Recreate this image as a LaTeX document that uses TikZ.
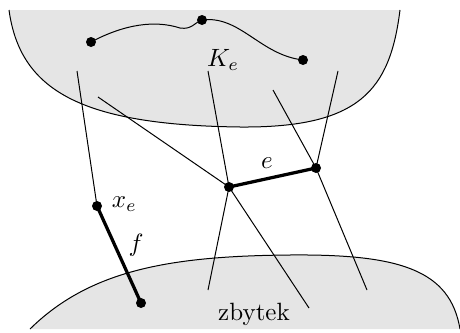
\documentclass[tikz,border=0pt]{standalone}
\begin{document}
\begin{tikzpicture}[x=0.4pt,y=-0.4pt,
  dot/.style={circle,fill=black,inner sep=0pt,minimum size=4pt},
  blob/.style={fill=gray!20},
  edge/.style={line width=0.4pt},
  heavy/.style={line width=1.3pt}]
\useasboundingbox (0,0) rectangle (460,333);
% top region K_e
\fill[blob] (9,10) .. controls (20,90) and (80,125) .. (240,127)
  .. controls (360,128) and (390,90) .. (400,10) -- cycle;
\draw[edge] (9,10) .. controls (20,90) and (80,125) .. (240,127)
  .. controls (360,128) and (390,90) .. (400,10);
% bottom region zbytek
\fill[blob] (30,329) .. controls (90,270) and (170,256) .. (290,255)
  .. controls (400,254) and (450,270) .. (460,329) -- cycle;
\draw[edge] (30,329) .. controls (90,270) and (170,256) .. (290,255)
  .. controls (400,254) and (450,270) .. (460,329);
% path inside K_e
\node[dot] (p1) at (91,42) {};
\node[dot] (p2) at (202,20) {};
\node[dot] (p3) at (303,60) {};
\draw[edge] (p1.center) .. controls (125,24) and (155,20) .. (180,28)
  .. controls (192,30) and (195,22) .. (p2.center)
  .. controls (240,15) and (260,55) .. (p3.center);
\node (Ke) at (223,60) {$K_e$};
% vertices
\node[dot] (u) at (229,187) {};
\node[dot] (v) at (316,168) {};
\node[dot] (xe) at (97,206) {};
\node[dot] (w) at (141,303) {};
% free ends
\coordinate (a1) at (77,71);
\coordinate (a2) at (98,97);
\coordinate (a3) at (208,71);
\coordinate (a4) at (208,290);
\coordinate (a5) at (309,308);
\coordinate (b1) at (273,90);
\coordinate (b2) at (338,71);
\coordinate (b3) at (367,290);
\draw[edge] (a1) -- (xe.center);
\draw[edge] (a2) -- (u.center) -- (a5);
\draw[edge] (a3) -- (u.center) -- (a4);
\draw[edge] (b1) -- (v.center) -- (b3);
\draw[edge] (b2) -- (v.center);
% thick edges
\draw[heavy] (u.center) -- (v.center);
\draw[heavy] (xe.center) -- (w.center);
\node (le) at (267,163) {$e$};
\node[anchor=west] (lxe) at (103,204) {$x_e$};
\node (lf) at (136,245) {$f$};
\node (zb) at (254,314) {zbytek};
\end{tikzpicture}
\end{document}
